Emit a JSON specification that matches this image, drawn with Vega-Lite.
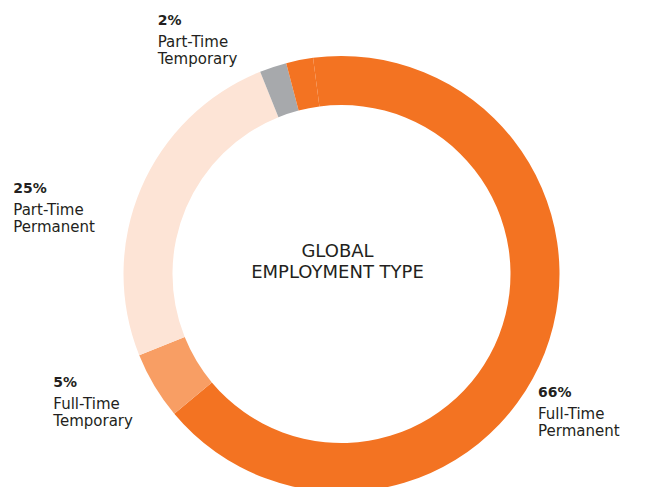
{
  "$schema": "https://vega.github.io/schema/vega-lite/v6.json",
  "width": 619,
  "height": 426,
  "autosize": {"type": "none"},
  "padding": {"left": 32, "top": 61, "right": 0, "bottom": 0},
  "background": "white",
  "config": {"view": {"stroke": null}, "font": "DejaVu Sans"},
  "datasets": {
    "employment": [
      {"type": "Full-Time Permanent", "share": 0.66, "rank": 1},
      {"type": "Full-Time Temporary", "share": 0.05, "rank": 2},
      {"type": "Part-Time Permanent", "share": 0.25, "rank": 3},
      {"type": "Part-Time Temporary", "share": 0.02, "rank": 4},
      {"type": "Other", "share": 0.02, "rank": 5}
    ]
  },
  "layer": [
    {
      "data": {"name": "employment"},
      "encoding": {
        "theta": {
          "field": "share",
          "type": "quantitative",
          "stack": true,
          "scale": {"range": [-0.1309, 6.1523]}
        },
        "order": {"field": "rank", "type": "quantitative"}
      },
      "layer": [
        {
          "mark": {"type": "arc", "innerRadius": 169, "outerRadius": 218},
          "encoding": {
            "color": {
              "field": "type",
              "type": "nominal",
              "legend": null,
              "scale": {
                "domain": ["Full-Time Permanent", "Full-Time Temporary", "Part-Time Permanent", "Part-Time Temporary", "Other"],
                "range": ["#f37322", "#f89e64", "#fde4d6", "#a7a9ac", "#f37322"]
              }
            }
          }
        },
        {
          "mark": {"type": "text", "radius": 218, "align": "left", "baseline": "alphabetic", "dx": -6.6, "dy": 44.3, "fontSize": 14, "fontWeight": "bold", "fill": "#231f20"},
          "encoding": {
            "detail": {"field": "type", "type": "nominal"},
            "text": {"condition": {"test": "datum.type === 'Full-Time Permanent'", "field": "share", "type": "quantitative", "format": ".0%"}, "value": ""}
          }
        },
        {
          "mark": {"type": "text", "radius": 218, "align": "left", "baseline": "alphabetic", "dx": -6.6, "dy": 66.3, "fontSize": 15, "lineBreak": " ", "lineHeight": 17, "fill": "#231f20"},
          "encoding": {
            "detail": {"field": "type", "type": "nominal"},
            "text": {"condition": {"test": "datum.type === 'Full-Time Permanent'", "field": "type", "type": "nominal"}, "value": ""}
          }
        },
        {
          "mark": {"type": "text", "radius": 218, "align": "left", "baseline": "alphabetic", "dx": -101.1, "dy": 0.8, "fontSize": 14, "fontWeight": "bold", "fill": "#231f20"},
          "encoding": {
            "detail": {"field": "type", "type": "nominal"},
            "text": {"condition": {"test": "datum.type === 'Full-Time Temporary'", "field": "share", "type": "quantitative", "format": ".0%"}, "value": ""}
          }
        },
        {
          "mark": {"type": "text", "radius": 218, "align": "left", "baseline": "alphabetic", "dx": -101.1, "dy": 23.4, "fontSize": 15, "lineBreak": " ", "lineHeight": 17, "fill": "#231f20"},
          "encoding": {
            "detail": {"field": "type", "type": "nominal"},
            "text": {"condition": {"test": "datum.type === 'Full-Time Temporary'", "field": "type", "type": "nominal"}, "value": ""}
          }
        },
        {
          "mark": {"type": "text", "radius": 218, "align": "left", "baseline": "alphabetic", "dx": -127.7, "dy": 4.2, "fontSize": 14, "fontWeight": "bold", "fill": "#231f20"},
          "encoding": {
            "detail": {"field": "type", "type": "nominal"},
            "text": {"condition": {"test": "datum.type === 'Part-Time Permanent'", "field": "share", "type": "quantitative", "format": ".0%"}, "value": ""}
          }
        },
        {
          "mark": {"type": "text", "radius": 218, "align": "left", "baseline": "alphabetic", "dx": -127.7, "dy": 26.5, "fontSize": 15, "lineBreak": " ", "lineHeight": 17, "fill": "#231f20"},
          "encoding": {
            "detail": {"field": "type", "type": "nominal"},
            "text": {"condition": {"test": "datum.type === 'Part-Time Permanent'", "field": "type", "type": "nominal"}, "value": ""}
          }
        },
        {
          "mark": {"type": "text", "radius": 218, "align": "left", "baseline": "alphabetic", "dx": -115.3, "dy": -42, "fontSize": 14, "fontWeight": "bold", "fill": "#231f20"},
          "encoding": {
            "detail": {"field": "type", "type": "nominal"},
            "text": {"condition": {"test": "datum.type === 'Part-Time Temporary'", "field": "share", "type": "quantitative", "format": ".0%"}, "value": ""}
          }
        },
        {
          "mark": {"type": "text", "radius": 218, "align": "left", "baseline": "alphabetic", "dx": -115.3, "dy": -20.5, "fontSize": 15, "lineBreak": " ", "lineHeight": 17, "fill": "#231f20"},
          "encoding": {
            "detail": {"field": "type", "type": "nominal"},
            "text": {"condition": {"test": "datum.type === 'Part-Time Temporary'", "field": "type", "type": "nominal"}, "value": ""}
          }
        }
      ]
    },
    {
      "data": {"values": [{"heading": "GLOBAL\nEMPLOYMENT TYPE"}]},
      "mark": {"type": "text", "align": "center", "baseline": "alphabetic", "dx": -4, "dy": -17.3, "fontSize": 18, "lineBreak": "\n", "lineHeight": 21.6, "fill": "#231f20"},
      "encoding": {
        "text": {"field": "heading", "type": "nominal"}
      }
    }
  ]
}
